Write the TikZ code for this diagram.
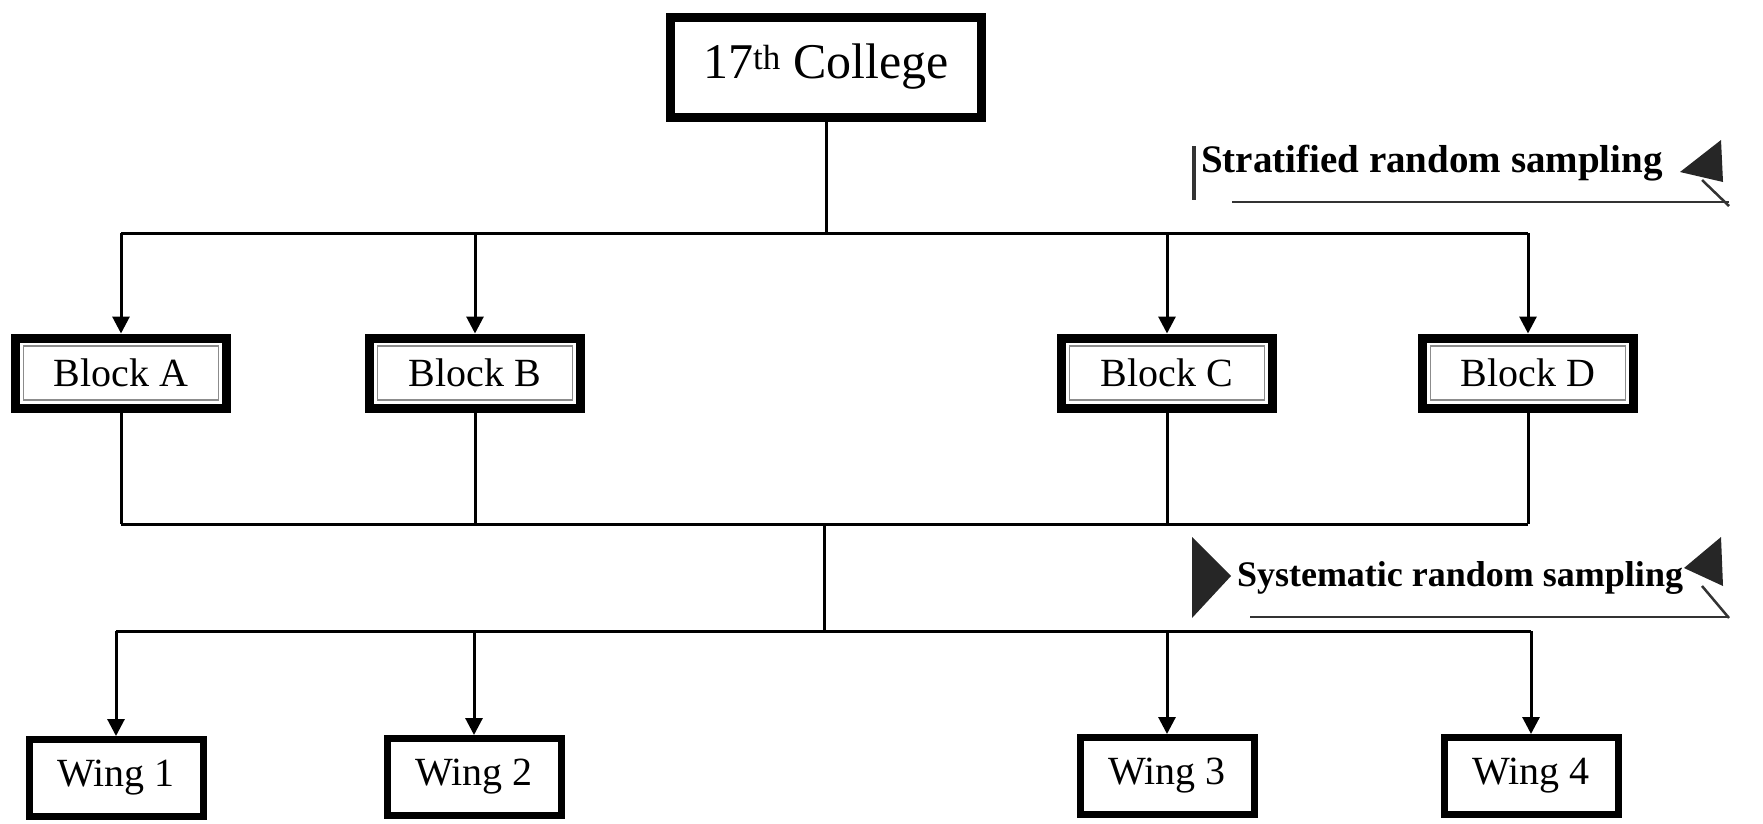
\documentclass[tikz,border=0pt]{standalone}
\usepackage{fontspec}
\setmainfont{Liberation Serif}
\usetikzlibrary{arrows.meta}
\begin{document}
\begin{tikzpicture}[x=1pt,y=-1pt,
  box/.style={draw=black, line width=8pt, fill=white, rectangle, inner sep=0pt, font=\fontsize{40}{48}\selectfont},
  blockbox/.style={box, line width=9pt, minimum width=211pt, minimum height=70pt,
    path picture={\draw[line width=1.2pt, black!45] ([shift={(8pt,-8pt)}]path picture bounding box.north west) rectangle ([shift={(-8pt,8pt)}]path picture bounding box.south east);}},
  wingbox/.style={box, line width=7pt, minimum width=174pt, minimum height=77pt},
  conn/.style={line width=3pt, draw=black},
  arr/.style={conn, -{Triangle[width=17pt,length=17pt]}},
  bannertext/.style={font=\bfseries\fontsize{39}{42}\selectfont, inner sep=0pt},
  bannerfill/.style={fill=black!85},
  bannerline/.style={line width=2.5pt, draw=black!80}
]
\useasboundingbox (0,0) rectangle (1763,823);

% top node
\node[box, line width=9pt, minimum width=311pt, minimum height=100pt, font=\fontsize{50}{60}\selectfont] (college) at (826,67) {17\textsuperscript{th} College};

% blocks
\node[blockbox] (blockA) at (121,373) {Block A};
\node[blockbox] (blockB) at (475,373) {Block B};
\node[blockbox] (blockC) at (1167,373) {Block C};
\node[blockbox] (blockD) at (1528,373) {Block D};

% wings
\node[wingbox] (wing1) at (116,778) {Wing 1};
\node[wingbox] (wing2) at (474,777) {Wing 2};
\node[wingbox] (wing3) at (1167,776) {Wing 3};
\node[wingbox] (wing4) at (1531,776) {Wing 4};

% bar levels
\coordinate (up) at (0,233);
\coordinate (mid) at (824,524);
\coordinate (low) at (0,631);

% college to blocks
\draw[conn] (college.south) -- (college.south |- up);
\draw[conn] (blockA.north |- up) -- (blockD.north |- up);
\draw[arr] (blockA.north |- up) -- (blockA.north);
\draw[arr] (blockB.north |- up) -- (blockB.north);
\draw[arr] (blockC.north |- up) -- (blockC.north);
\draw[arr] (blockD.north |- up) -- (blockD.north);

% blocks to middle bar
\draw[conn] (blockA.south) -- (blockA.south |- mid);
\draw[conn] (blockB.south) -- (blockB.south |- mid);
\draw[conn] (blockC.south) -- (blockC.south |- mid);
\draw[conn] (blockD.south) -- (blockD.south |- mid);
\draw[conn] (blockA.south |- mid) -- (blockD.south |- mid);
\draw[conn] (mid) -- (mid |- low);

% lower bar to wings
\draw[conn] (wing1.north |- low) -- (wing4.north |- low);
\draw[arr] (wing1.north |- low) -- (wing1.north);
\draw[arr] (wing2.north |- low) -- (wing2.north);
\draw[arr] (wing3.north |- low) -- (wing3.north);
\draw[arr] (wing4.north |- low) -- (wing4.north);

% banner: stratified
\node[bannertext] (strat) at (1432,163) {Stratified random sampling};
\draw[line width=4pt, black!80] (1194,146) -- (1194,200);
\fill[bannerfill] (1721,140) -- (1680,172) -- (1723,182) -- cycle;
\draw[bannerline] (1702,180) -- (1729,206);
\draw[bannerline] (1232,202) -- (1729,202);

% banner: systematic
\node[bannertext, font=\bfseries\fontsize{36}{40}\selectfont] (syst) at (1460,578) {Systematic random sampling};
\fill[bannerfill] (1192,537) -- (1231,576) -- (1192,618) -- cycle;
\fill[bannerfill] (1721,537) -- (1684,568) -- (1723,586) -- cycle;
\draw[bannerline] (1702,586) -- (1729,618);
\draw[bannerline] (1250,617) -- (1729,617);
\end{tikzpicture}
\end{document}
